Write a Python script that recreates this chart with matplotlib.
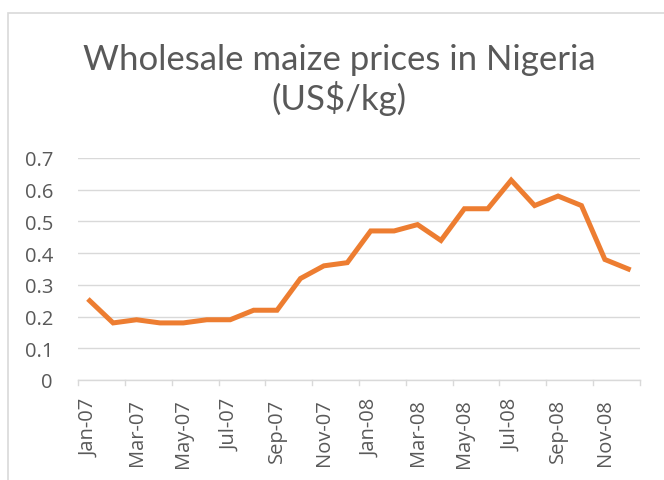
import matplotlib
matplotlib.use("Agg")
import matplotlib.pyplot as plt
from matplotlib.patches import Rectangle

# monthly wholesale maize prices, Jan-07 .. Dec-08 (US$/kg)
months = ["Jan-07", "Feb-07", "Mar-07", "Apr-07", "May-07", "Jun-07",
          "Jul-07", "Aug-07", "Sep-07", "Oct-07", "Nov-07", "Dec-07",
          "Jan-08", "Feb-08", "Mar-08", "Apr-08", "May-08", "Jun-08",
          "Jul-08", "Aug-08", "Sep-08", "Oct-08", "Nov-08", "Dec-08"]
prices = [0.25, 0.18, 0.19, 0.18, 0.18, 0.19,
          0.19, 0.22, 0.22, 0.32, 0.36, 0.37,
          0.47, 0.47, 0.49, 0.44, 0.54, 0.54,
          0.63, 0.55, 0.58, 0.55, 0.38, 0.35]
yticks = [0, 0.1, 0.2, 0.3, 0.4, 0.5, 0.6, 0.7]

plt.rcParams["font.family"] = ["Open Sans", "DejaVu Sans"]
grey = "#595959"

fig = plt.figure(figsize=(6.64, 4.81), dpi=100)
W, H = 664, 481
ax = fig.add_axes([78 / W, 1 - 381 / H, (640 - 78) / W, (381 - 159) / H])

x = range(len(prices))
ax.plot(x, prices, color="#ED7D31", lw=3.6, solid_joinstyle="miter", zorder=3)

ax.set_xlim(-0.5, len(prices) - 0.5)
ax.set_ylim(0, 0.7)
ax.set_yticks(yticks)
ax.set_yticklabels(["0" if v == 0 else f"{v:.1f}" for v in yticks])
ax.yaxis.grid(True, color="#D9D9D9", lw=1.0)
ax.set_axisbelow(True)
ax.tick_params(axis="y", length=0, pad=18, labelsize=14.5, labelcolor=grey)

# labels on every other month, centred on the category
ax.set_xticks(list(x)[::2])
ax.set_xticklabels(months[::2], rotation=90)
ax.tick_params(axis="x", length=0, pad=13, labelsize=14.5, labelcolor=grey)
# tick marks on category boundaries
for b in range(0, len(prices) + 1, 2):
    ax.plot([b - 0.5, b - 0.5], [0, -0.016], color="#D9D9D9", lw=1.0,
            clip_on=False, zorder=2)

for s in ["top", "right", "left"]:
    ax.spines[s].set_visible(False)
ax.spines["bottom"].set_color("#D9D9D9")
ax.spines["bottom"].set_linewidth(1.0)

fig.text(339 / W, 1 - 70 / H, "Wholesale maize prices in Nigeria",
         ha="center", va="baseline", fontsize=25, color=grey, family="Lato")
fig.text(339 / W, 1 - 110 / H, "(US$/kg)",
         ha="center", va="baseline", fontsize=25, color=grey, family="Lato")

fig.patches.append(Rectangle((8 / W, -0.1), 1.2, 1 - 14 / H + 0.1,
                             transform=fig.transFigure, fill=False,
                             edgecolor="#D9D9D9", lw=1.2))

fig.savefig("out.png", dpi=100)
